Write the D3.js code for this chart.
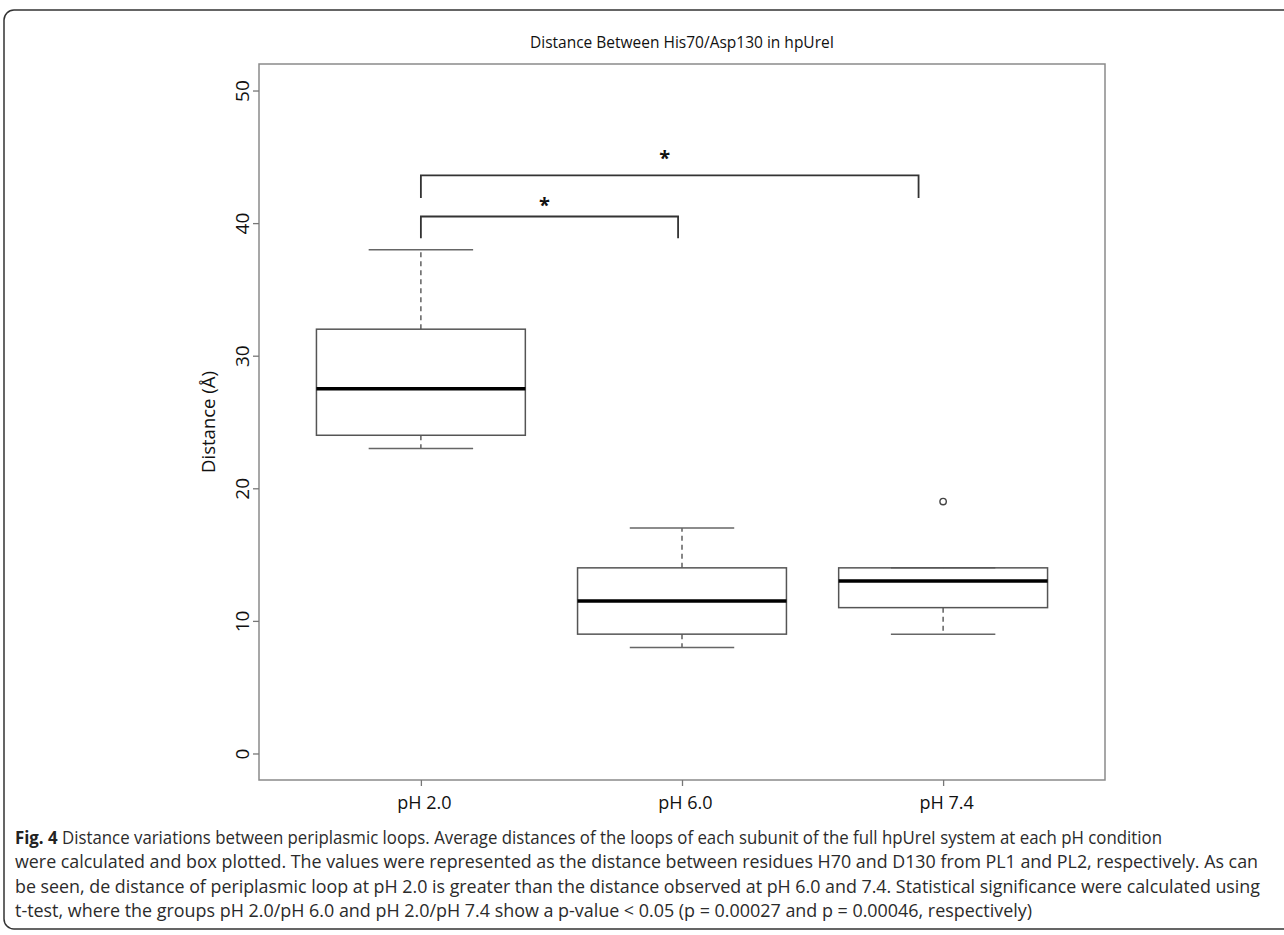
<!DOCTYPE html>
<html>
<head>
<meta charset="utf-8">
<script src="https://cdn.jsdelivr.net/npm/d3@7"></script>
<style>
  body { margin: 0; background: #fff; }
  svg { display: block; }
</style>
</head>
<body>
<svg id="chart" width="1284" height="935"></svg>
<script>
// box plot summaries
const groups = ["pH 2.0", "pH 6.0", "pH 7.4"];
const whiskerLow = [23, 8, 9];
const q1 = [24, 9, 11];
const medians = [27.5, 11.5, 13];
const q3 = [32, 14, 14];
const whiskerHigh = [38, 17, 14];
const outliers = [[], [], [19]];
const yTicks = [0, 10, 20, 30, 40, 50];

// significance brackets (group index from/to, height in Å)
const sigFrom = [1, 1];
const sigTo = [1.985, 2.906];
const sigHeight = [40.5, 43.6];
const sigDrop = [38.85, 41.9];
const sigLabels = ["*", "*"];

const title = "Distance Between His70/Asp130 in hpUreI";
const yLabel = "Distance (Å)";
const captionLines = [
  "Distance variations between periplasmic loops. Average distances of the loops of each subunit of the full hpUreI system at each pH condition",
  "were calculated and box plotted. The values were represented as the distance between residues H70 and D130 from PL1 and PL2, respectively. As can",
  "be seen, de distance of periplasmic loop at pH 2.0 is greater than the distance observed at pH 6.0 and 7.4. Statistical significance were calculated using",
  "t-test, where the groups pH 2.0/pH 6.0 and pH 2.0/pH 7.4 show a p-value < 0.05 (p = 0.00027 and p = 0.00046, respectively)"
];

const svg = d3.select("#chart");
const font = "'Open Sans', 'DejaVu Sans', sans-serif";

// outer figure frame (cut off at the right edge)
svg.append("rect")
  .attr("x", 4).attr("y", 10)
  .attr("width", 1310).attr("height", 919)
  .attr("rx", 10)
  .attr("fill", "none")
  .attr("stroke", "#333")
  .attr("stroke-width", 1.5);

const plotLeft = 259, plotRight = 1105, plotTop = 64, plotBottom = 780;

const x = d3.scaleLinear().domain([0.38, 3.62]).range([plotLeft, plotRight]);
const y = d3.scaleLinear().domain([-2, 52]).range([plotBottom, plotTop]);

const g = svg.append("g");

// plot frame
g.append("rect")
  .attr("x", plotLeft).attr("y", plotTop)
  .attr("width", plotRight - plotLeft).attr("height", plotBottom - plotTop)
  .attr("fill", "none")
  .attr("stroke", "#8a8a8a")
  .attr("stroke-width", 1.5);

// y axis
const yAxis = g.append("g")
  .attr("transform", "translate(" + plotLeft + ",0)")
  .call(d3.axisLeft(y).tickValues(yTicks).tickSize(6).tickSizeOuter(0));
yAxis.select(".domain").remove();
yAxis.selectAll(".tick line").attr("stroke", "#777").attr("stroke-width", 1.3);
yAxis.selectAll(".tick text")
  .attr("transform", "rotate(-90)")
  .attr("x", 0).attr("y", -10).attr("dy", null)
  .attr("text-anchor", "middle")
  .attr("fill", "#111")
  .style("font-family", font)
  .style("font-size", "19px");

// x axis
const xAxis = g.append("g")
  .attr("transform", "translate(0," + plotBottom + ")")
  .call(d3.axisBottom(x).tickValues([1, 2, 3]).tickFormat((d) => groups[d - 1]).tickSize(6).tickSizeOuter(0));
xAxis.select(".domain").remove();
xAxis.selectAll(".tick line").attr("stroke", "#777").attr("stroke-width", 1.3);
xAxis.selectAll(".tick text")
  .attr("y", 29).attr("dy", null)
  .attr("dx", 3)
  .attr("fill", "#111")
  .style("font-family", font)
  .style("font-size", "18px");

// boxes
const boxW = 0.8;
const data = groups.map((name, i) => ({
  i: i + 1, name: name,
  lo: whiskerLow[i], q1: q1[i], med: medians[i], q3: q3[i], hi: whiskerHigh[i],
  out: outliers[i]
}));

const box = g.selectAll(".box").data(data).join("g").attr("class", "box");

// dashed whiskers
box.append("line")
  .attr("x1", (d) => x(d.i)).attr("x2", (d) => x(d.i))
  .attr("y1", (d) => y(d.q3)).attr("y2", (d) => y(d.hi))
  .attr("stroke", "#555").attr("stroke-width", 1.4).attr("stroke-dasharray", "5,4");
box.append("line")
  .attr("x1", (d) => x(d.i)).attr("x2", (d) => x(d.i))
  .attr("y1", (d) => y(d.q1)).attr("y2", (d) => y(d.lo))
  .attr("stroke", "#555").attr("stroke-width", 1.4).attr("stroke-dasharray", "5,4");

// whisker caps
["hi", "lo"].forEach((k) => {
  box.append("line")
    .attr("x1", (d) => x(d.i - boxW / 4)).attr("x2", (d) => x(d.i + boxW / 4))
    .attr("y1", (d) => y(d[k])).attr("y2", (d) => y(d[k]))
    .attr("stroke", "#666").attr("stroke-width", 1.5);
});

box.append("rect")
  .attr("x", (d) => x(d.i - boxW / 2))
  .attr("width", (d) => x(d.i + boxW / 2) - x(d.i - boxW / 2))
  .attr("y", (d) => y(d.q3))
  .attr("height", (d) => y(d.q1) - y(d.q3))
  .attr("fill", "none")
  .attr("stroke", "#555")
  .attr("stroke-width", 1.5);

box.append("line")
  .attr("x1", (d) => x(d.i - boxW / 2)).attr("x2", (d) => x(d.i + boxW / 2))
  .attr("y1", (d) => y(d.med)).attr("y2", (d) => y(d.med))
  .attr("stroke", "#000").attr("stroke-width", 3.5);

box.selectAll(".out").data((d) => d.out.map((v) => ({i: d.i, v: v})))
  .join("circle")
  .attr("cx", (d) => x(d.i)).attr("cy", (d) => y(d.v))
  .attr("r", 3.2)
  .attr("fill", "none").attr("stroke", "#444").attr("stroke-width", 1.4);

// significance brackets
sigFrom.forEach((from, k) => {
  const x0 = x(from), x1 = x(sigTo[k]);
  const yt = y(sigHeight[k]), yb = y(sigDrop[k]);
  g.append("path")
    .attr("d", "M" + x0 + "," + yb + "V" + yt + "H" + x1 + "V" + yb)
    .attr("fill", "none").attr("stroke", "#333").attr("stroke-width", 1.8);
  g.append("text")
    .attr("x", (x0 + x1) / 2 - 5)
    .attr("y", yt - 4 - k * 6)
    .attr("text-anchor", "middle")
    .style("font-family", font)
    .style("font-size", "20px")
    .style("font-weight", "bold")
    .attr("fill", "#111")
    .text(sigLabels[k]);
});

// title and axis label
svg.append("text")
  .attr("x", (plotLeft + plotRight) / 2).attr("y", 48)
  .attr("text-anchor", "middle")
  .style("font-family", font).style("font-size", "15.5px")
  .attr("fill", "#111")
  .text(title);

svg.append("text")
  .attr("transform", "translate(215," + (plotTop + plotBottom) / 2 + ") rotate(-90)")
  .attr("text-anchor", "middle")
  .style("font-family", font).style("font-size", "18.5px")
  .attr("fill", "#111")
  .text(yLabel);

// caption
const capEnds = [1162, 1258, 1260, 1032];
const capY = [844, 868, 893, 917];
captionLines.forEach((line, k) => {
  const t = svg.append("text")
    .attr("x", 15).attr("y", capY[k])
    .attr("textLength", capEnds[k] - 15)
    .attr("lengthAdjust", "spacingAndGlyphs")
    .style("font-family", font).style("font-size", "17.5px")
    .attr("fill", "#2b2b2b");
  if (k === 0) {
    t.append("tspan").style("font-weight", "bold").attr("fill", "#222").text("Fig. 4 ");
  }
  t.append("tspan").text(line);
});
</script>
</body>
</html>
